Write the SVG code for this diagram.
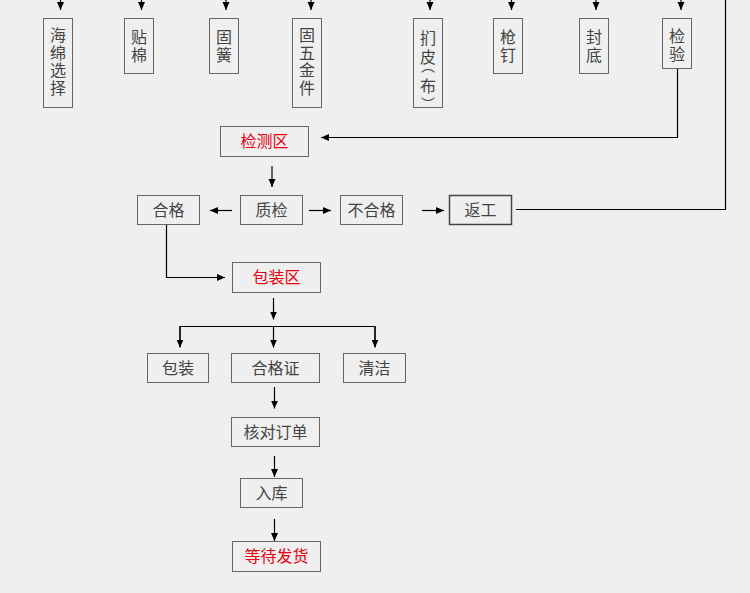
<svg xmlns="http://www.w3.org/2000/svg" width="750" height="593" viewBox="0 0 750 593">
<defs>
<marker id="ah" markerUnits="userSpaceOnUse" markerWidth="9" markerHeight="8" refX="8" refY="3.5" orient="auto">
<path d="M0,0 L8,3.5 L0,7 z" fill="#000"/>
</marker>
<style>
.b{fill:none;stroke:#666;stroke-width:1}
.b2{fill:none;stroke:#444;stroke-width:1.5}
.t{font-family:"Noto Sans CJK SC","Noto Sans",sans-serif;font-size:16px;fill:#444;text-anchor:middle}
.r{fill:#e60012}
.v{font-family:"Noto Sans CJK SC","Noto Sans",sans-serif;font-size:16px;fill:#444;writing-mode:vertical-rl;letter-spacing:1.5px}
.p{font-family:"Noto Sans CJK SC","Noto Sans",sans-serif;font-size:16px;fill:#444;text-anchor:middle;dominant-baseline:central}
.ps{font-size:14px}
.c{fill:none;stroke:#000;stroke-width:1.2}
.a{fill:none;stroke:#000;stroke-width:1.2;marker-end:url(#ah)}
</style>
</defs>
<rect width="750" height="593" fill="#efefef"/>

<g id="n-haimian"><rect class="b" x="43.5" y="18.5" width="29" height="89"/><text class="v" x="58" y="27">海绵选择</text></g>
<g id="n-tiemian"><rect class="b" x="124.5" y="18.5" width="29" height="55"/><text class="v" x="139" y="29">贴棉</text></g>
<g id="n-guhuang"><rect class="b" x="209.5" y="18.5" width="29" height="55"/><text class="v" x="224" y="29">固簧</text></g>
<g id="n-guwujin"><rect class="b" x="292.5" y="18.5" width="29" height="89"/><text class="v" x="307" y="27">固五金件</text></g>
<g id="n-menpi"><rect class="b" x="413.5" y="18.5" width="29" height="89"/>
<text class="p"><tspan x="428" y="37">扪</tspan><tspan x="428" y="56">皮</tspan><tspan class="ps" x="428" y="65">︵</tspan><tspan x="428" y="84.5">布</tspan><tspan class="ps" x="428" y="103">︶</tspan></text>
</g>
<g id="n-qiangding"><rect class="b" x="493.5" y="18.5" width="29" height="55"/><text class="v" x="508" y="29">枪钉</text></g>
<g id="n-fengdi"><rect class="b" x="579.5" y="18.5" width="29" height="55"/><text class="v" x="594" y="29">封底</text></g>
<g id="n-jianyan"><rect class="b" x="662.5" y="18.5" width="29" height="50"/><text class="v" x="677" y="28">检验</text></g>

<g id="n-jiancequ"><rect class="b" x="220.5" y="126.5" width="88" height="30"/><text class="t r" x="264.5" y="147">检测区</text></g>
<g id="n-hege"><rect class="b" x="137.5" y="195.5" width="62" height="29"/><text class="t" x="168.5" y="216">合格</text></g>
<g id="n-zhijian"><rect class="b" x="240.5" y="195.5" width="62" height="29"/><text class="t" x="271.5" y="216">质检</text></g>
<g id="n-buhege"><rect class="b" x="340.5" y="195.5" width="62" height="29"/><text class="t" x="371.5" y="216">不合格</text></g>
<g id="n-fangong"><rect class="b2" x="449.5" y="195.5" width="62" height="29"/><text class="t" x="480.5" y="216">返工</text></g>
<g id="n-baozhuangqu"><rect class="b" x="232.5" y="262.5" width="88" height="30"/><text class="t r" x="276.5" y="283">包装区</text></g>
<g id="n-baozhuang"><rect class="b" x="147.5" y="353.5" width="61" height="29"/><text class="t" x="178" y="374">包装</text></g>
<g id="n-hegezheng"><rect class="b" x="231.5" y="353.5" width="88" height="29"/><text class="t" x="275.5" y="374">合格证</text></g>
<g id="n-qingjie"><rect class="b" x="343.5" y="353.5" width="62" height="29"/><text class="t" x="374.5" y="374">清洁</text></g>
<g id="n-hedui"><rect class="b" x="231.5" y="417.5" width="88" height="29"/><text class="t" x="275.5" y="438">核对订单</text></g>
<g id="n-ruku"><rect class="b" x="240.5" y="478.5" width="62" height="29"/><text class="t" x="271.5" y="499">入库</text></g>
<g id="n-dengdai"><rect class="b" x="232.5" y="541.5" width="88" height="30"/><text class="t r" x="276.5" y="562">等待发货</text></g>

<g id="connectors">
<path class="a" d="M60.5,0 V10"/>
<path class="a" d="M141.5,0 V10"/>
<path class="a" d="M226,0 V10"/>
<path class="a" d="M311,0 V10"/>
<path class="a" d="M430,0 V10"/>
<path class="a" d="M511.5,0 V10"/>
<path class="a" d="M596,0 V10"/>
<path class="a" d="M681,0 V10"/>
<path class="a" d="M677.5,69 V137.5 H321"/>
<path class="c" d="M725.5,0 V209.5 H516"/>
<path class="a" d="M272,166 V187"/>
<path class="a" d="M232,210.5 H210"/>
<path class="a" d="M309,210.5 H331"/>
<path class="a" d="M422,210.5 H444"/>
<path class="a" d="M166.5,225 V277.5 H225"/>
<path class="a" d="M273.5,298 V319.5"/>
<path class="c" d="M180,347 V326.5 H375 V347"/>
<path class="a" d="M180,326.5 V347.5"/>
<path class="a" d="M273.5,326.5 V347.5"/>
<path class="a" d="M375,326.5 V347.5"/>
<path class="a" d="M274.5,387 V408.5"/>
<path class="a" d="M274.5,456 V477"/>
<path class="a" d="M274.5,519 V541"/>
</g>
</svg>
